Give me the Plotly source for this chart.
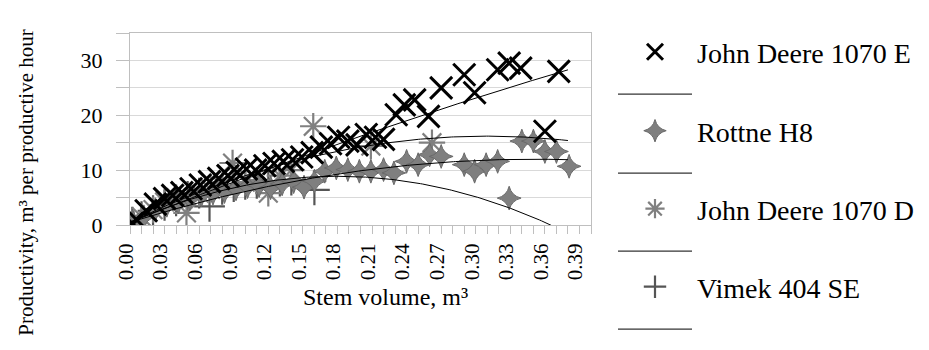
import numpy as np
import plotly.graph_objects as go

# ---------------- data ----------------
jd_e_x = [0.002, 0.006, 0.014, 0.022, 0.030, 0.037, 0.045, 0.053, 0.061, 0.069, 0.077, 0.085,
          0.093, 0.101, 0.109, 0.117, 0.125, 0.133, 0.141, 0.149, 0.158, 0.166, 0.174, 0.181,
          0.189, 0.197, 0.205, 0.213, 0.220, 0.231, 0.238, 0.247, 0.259, 0.270, 0.290, 0.299,
          0.319, 0.329, 0.339, 0.360, 0.372]
jd_e_y = [0.3, 0.9, 2.6, 3.8, 4.8, 5.4, 5.9, 6.6, 7.3, 7.9, 8.5, 9.0,
          9.6, 10.2, 10.0, 10.8, 11.2, 11.6, 11.9, 12.4, 13.2, 14.2, 14.8, 16.0,
          15.3, 14.6, 16.5, 16.0, 15.6, 20.1, 21.9, 22.8, 19.8, 25.0, 27.4, 24.1,
          28.3, 29.5, 28.6, 17.1, 28.0]

rottne_x = [0.003, 0.012, 0.022, 0.032, 0.042, 0.052, 0.062, 0.072, 0.082, 0.092, 0.102, 0.112,
            0.122, 0.132, 0.142, 0.151, 0.160, 0.169, 0.179, 0.189, 0.199, 0.209, 0.220, 0.229,
            0.240, 0.250, 0.260, 0.270, 0.290, 0.299, 0.309, 0.319, 0.329, 0.340, 0.350, 0.360,
            0.370, 0.381]
rottne_y = [0.4, 1.5, 2.8, 3.6, 4.2, 4.8, 5.5, 5.8, 6.1, 6.6, 7.0, 7.2,
            6.8, 7.5, 7.9, 6.9, 8.0, 9.8, 10.4, 10.1, 9.8, 9.8, 10.1, 9.5,
            11.6, 11.0, 12.8, 12.5, 11.0, 9.8, 11.0, 11.6, 4.9, 15.3, 15.3, 13.4,
            13.4, 10.7]

jd_d_x = [0.003, 0.010, 0.020, 0.030, 0.040, 0.049, 0.060, 0.070, 0.080, 0.089, 0.100, 0.110,
          0.120, 0.130, 0.140, 0.159, 0.209, 0.262]
jd_d_y = [0.3, 1.5, 2.8, 4.2, 5.0, 2.2, 5.8, 6.5, 7.2, 11.3, 7.8, 8.2,
          5.8, 9.0, 10.0, 18.0, 14.4, 15.0]

vimek_x = [0.002, 0.010, 0.020, 0.030, 0.040, 0.050, 0.060, 0.069, 0.080, 0.090, 0.100, 0.110,
           0.120, 0.130, 0.140, 0.160]
vimek_y = [0.5, 1.5, 2.6, 3.6, 4.4, 5.2, 5.8, 3.4, 6.5, 7.0, 7.4, 7.6,
           7.8, 8.0, 8.2, 6.4]

# polynomial (2nd order) trendline coefficients [c0, c1, c2]
trend_x_range = [0.0, 0.38]
jd_e_trend = [0.5, 84.4, -29.7]
rottne_trend = [0.5, 65.7, -93.9]
jd_d_trend = [0.5, 101.3, -163.4]
vimek_trend = [0.5, 93.2, -259.0]

series_names = ["John Deere 1070 E", "Rottne H8", "John Deere 1070 D", "Vimek 404 SE"]
x_tick_step = 0.03
y_tick_step = 10

FONT = "Liberation Serif, Times New Roman, serif"

fig = go.Figure()

marker_styles = {
    "John Deere 1070 E": dict(symbol="x-thin-open", size=22, color="#000000",
                              line=dict(width=3, color="#000000")),
    "Rottne H8": dict(symbol="star-diamond", size=17, color="#7f7f7f",
                      line=dict(width=1, color="#6a6a6a")),
    "John Deere 1070 D": dict(symbol="asterisk-open", size=22, color="#808080",
                              line=dict(width=2.2, color="#808080")),
    "Vimek 404 SE": dict(symbol="cross-thin-open", size=22, color="#555555",
                         line=dict(width=2.2, color="#555555")),
}

data = {
    "John Deere 1070 E": (jd_e_x, jd_e_y, jd_e_trend),
    "Rottne H8": (rottne_x, rottne_y, rottne_trend),
    "John Deere 1070 D": (jd_d_x, jd_d_y, jd_d_trend),
    "Vimek 404 SE": (vimek_x, vimek_y, vimek_trend),
}
legend_ids = ["legend", "legend2", "legend3", "legend4"]

# markers (drawn so that JD 1070 E ends on top)
draw_order = ["Vimek 404 SE", "John Deere 1070 D", "Rottne H8", "John Deere 1070 E"]
for name in draw_order:
    xs, ys, _ = data[name]
    k = series_names.index(name)
    fig.add_trace(go.Scatter(
        x=xs, y=ys, mode="markers", name=name,
        marker=marker_styles[name],
        legend=legend_ids[k], legendgroup="m%d" % k, legendrank=1,
    ))

# trendlines on top
tx = np.linspace(trend_x_range[0], trend_x_range[1], 200)
for name in series_names:
    _, _, c = data[name]
    k = series_names.index(name)
    ty = c[0] + c[1] * tx + c[2] * tx ** 2
    fig.add_trace(go.Scatter(
        x=tx, y=ty, mode="lines", name=" ",
        line=dict(color="#000000", width=1),
        legend=legend_ids[k], legendgroup="t%d" % k, legendrank=2,
        hoverinfo="skip",
    ))

grid = "#d9d9d9"
axcol = "#bfbfbf"


def legend_box(top_px):
    return dict(
        x=(605 - 122) / 461, xanchor="left",
        y=(217 - top_px) / 192, yanchor="top",
        font=dict(family=FONT, size=28, color="#000000"),
        itemwidth=74, itemsizing="trace",
        traceorder="grouped", tracegroupgap=3,
        bgcolor="rgba(0,0,0,0)",
    )


fig.update_layout(
    width=929, height=350,
    margin=dict(l=122, r=346, t=25, b=133, autoexpand=False),
    paper_bgcolor="white", plot_bgcolor="white",
    font=dict(family=FONT, size=22, color="#000000"),
    showlegend=True,
    legend=legend_box(19),
    legend2=legend_box(98),
    legend3=legend_box(176),
    legend4=legend_box(254),
    xaxis=dict(
        range=[0, 0.40], dtick=x_tick_step, tick0=0, tickformat=".2f",
        tickangle=-90, ticks="outside", ticklen=8, tickcolor=axcol,
        minor=dict(dtick=0.01, ticks="outside", ticklen=8, tickcolor=axcol, showgrid=False),
        showgrid=False, showline=True, linecolor=axcol, linewidth=1, mirror=True,
        zeroline=False, ticklabelstandoff=1, ticklabelshift=-4,
        tickfont=dict(family=FONT, size=21),
    ),
    yaxis=dict(
        range=[0, 35], dtick=y_tick_step, tick0=0,
        ticks="outside", ticklen=13, tickcolor=axcol,
        minor=dict(dtick=5, ticks="outside", ticklen=13, tickcolor=axcol,
                   showgrid=True, gridcolor=grid, gridwidth=1),
        showgrid=True, gridcolor=grid, gridwidth=1,
        showline=True, linecolor=axcol, linewidth=1, mirror=True,
        zeroline=False, ticklabelstandoff=9,
        tickfont=dict(family=FONT, size=22),
    ),
    annotations=[
        dict(text="Stem volume, m³", xref="paper", yref="paper",
             x=0.555, y=-0.375, xanchor="center", yanchor="middle",
             showarrow=False, font=dict(family=FONT, size=24)),
        dict(text="Productivity, m³ per productive hour", xref="paper", yref="paper",
             x=-0.226, y=0.219, xanchor="center", yanchor="middle", textangle=-90,
             showarrow=False, font=dict(family=FONT, size=21)),
    ],
)

fig.write_html("out.html")
